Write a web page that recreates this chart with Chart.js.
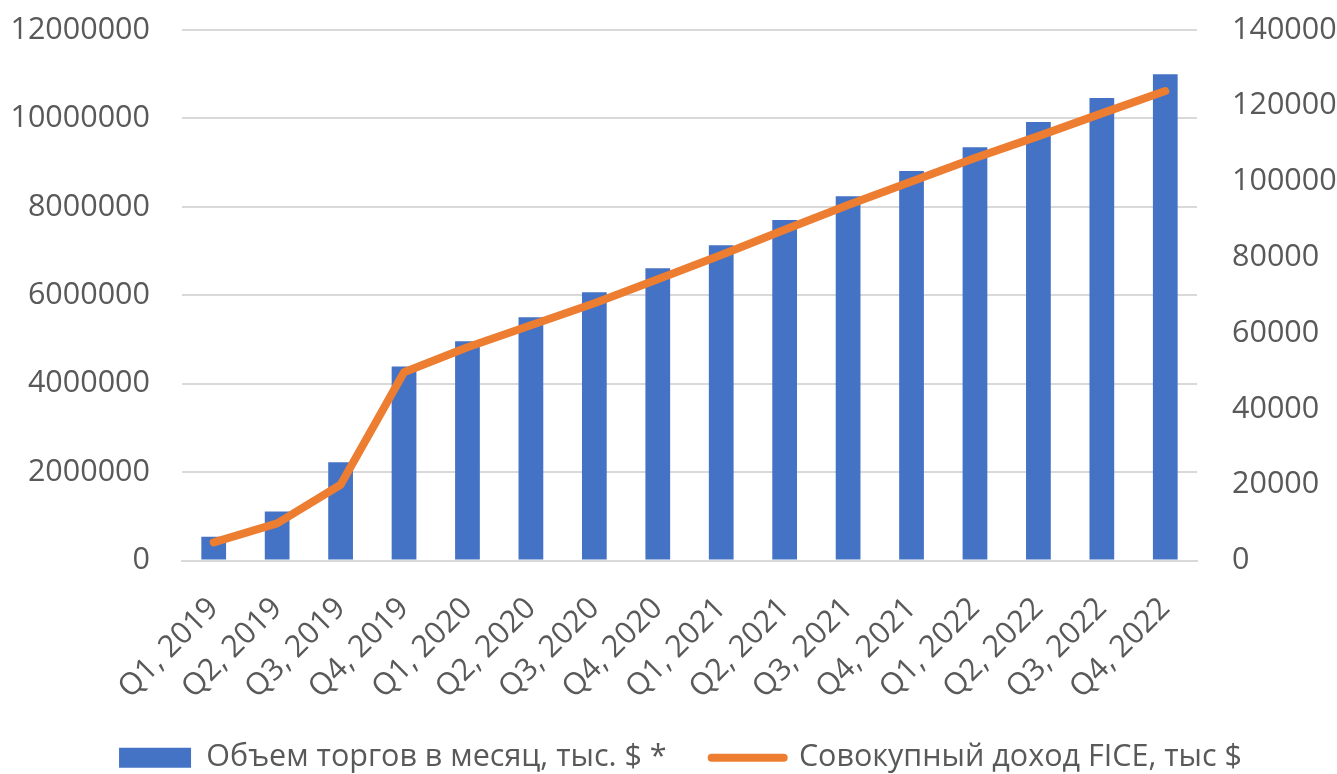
<!DOCTYPE html>
<html>
<head>
<meta charset="utf-8">
<script src="https://cdn.jsdelivr.net/npm/chart.js@4"></script>
<style>
  body { margin: 0; background: #fff; }
  #wrap { width: 1337px; height: 774px; }
</style>
</head>
<body>
<div id="wrap"><canvas id="myChart"></canvas></div>
<script>
// quarters on the x axis
const quarters = ['Q1, 2019', 'Q2, 2019', 'Q3, 2019', 'Q4, 2019',
                  'Q1, 2020', 'Q2, 2020', 'Q3, 2020', 'Q4, 2020',
                  'Q1, 2021', 'Q2, 2021', 'Q3, 2021', 'Q4, 2021',
                  'Q1, 2022', 'Q2, 2022', 'Q3, 2022', 'Q4, 2022'];

// monthly trading volume, thousand $ (left axis)
const volume = [540000, 1110000, 2220000, 4390000, 4960000, 5500000, 6070000, 6610000,
                7130000, 7700000, 8240000, 8810000, 9350000, 9920000, 10460000, 11000000];

// cumulative FICE income, thousand $ (right axis)
const income = [4800, 9800, 20000, 49700, 56300, 62100, 67900, 74200,
                80600, 87300, 93800, 100000, 106200, 112000, 118000, 123900];

const leftTicks = { min: 0, max: 12000000, step: 2000000 };
const rightTicks = { min: 0, max: 140000, step: 20000 };

const labelFont = { family: 'Open Sans', size: 30.5 };
const textColor = '#595959';

// nudge the legend a bit right and down, and let the rotated x labels
// run down past the axis box so they are not clipped
const layoutTweak = {
    id: 'layoutTweak',
    afterLayout(chart) {
        const lg = chart.legend;
        lg.left += 12; lg.right += 12;
        lg.top += 9; lg.bottom += 9;
        const x = chart.scales.x;
        x.bottom = chart.height;
        x.height = x.bottom - x.top;
    }
};

// drop the label overflow padding so the plot area reaches the top
const noPad = s => { s.paddingTop = 0; s.paddingBottom = 0; };

new Chart(document.getElementById('myChart'), {
    data: {
        labels: quarters,
        datasets: [{
            type: 'bar',
            label: 'Объем торгов в месяц, тыс. $ *',
            data: volume,
            backgroundColor: '#4472C4',
            yAxisID: 'y',
            order: 1,
            categoryPercentage: 1,
            barPercentage: 0.39
        }, {
            type: 'line',
            label: 'Совокупный доход FICE, тыс $',
            data: income,
            borderColor: '#ED7D31',
            backgroundColor: '#ED7D31',
            borderWidth: 8,
            borderCapStyle: 'round',
            borderJoinStyle: 'round',
            pointRadius: 0,
            tension: 0,
            yAxisID: 'y1',
            order: 0
        }]
    },
    options: {
        responsive: true,
        maintainAspectRatio: false,
        animation: false,
        layout: { padding: { top: 30, bottom: 0, left: 0, right: 0 } },
        plugins: {
            tooltip: { enabled: false },
            legend: {
                position: 'bottom',
                labels: {
                    font: labelFont,
                    color: textColor,
                    usePointStyle: true,
                    pointStyleWidth: 72,
                    boxHeight: 20,
                    padding: 45,
                    generateLabels: chart => chart.data.datasets.map((ds, i) => ({
                        text: ds.label,
                        datasetIndex: i,
                        fillStyle: ds.backgroundColor,
                        strokeStyle: i === 0 ? ds.backgroundColor : ds.borderColor,
                        lineWidth: i === 0 ? 0 : 8,
                        lineCap: 'round',
                        pointStyle: i === 0 ? 'rect' : 'line',
                        fontColor: textColor,
                        hidden: false
                    }))
                }
            }
        },
        scales: {
            x: {
                grid: { display: false },
                border: { display: true, color: '#d9d9d9', width: 2 },
                ticks: {
                    font: labelFont,
                    color: textColor,
                    minRotation: 45,
                    maxRotation: 45,
                    padding: 22
                },
                afterFit: s => { s.height = 128; s.paddingLeft = 0; s.paddingRight = 0; }
            },
            y: {
                position: 'left',
                min: leftTicks.min,
                max: leftTicks.max,
                grid: { color: '#d9d9d9', lineWidth: 2, drawTicks: false },
                border: { display: false },
                ticks: {
                    stepSize: leftTicks.step,
                    font: labelFont,
                    color: textColor,
                    padding: 32,
                    callback: v => String(v)
                },
                afterFit: s => { s.width = 182; noPad(s); }
            },
            y1: {
                position: 'right',
                min: rightTicks.min,
                max: rightTicks.max,
                grid: { display: false, drawTicks: false },
                border: { display: false },
                ticks: {
                    stepSize: rightTicks.step,
                    font: labelFont,
                    color: textColor,
                    padding: 35,
                    callback: v => String(v)
                },
                afterFit: s => { s.width = 140; noPad(s); }
            }
        }
    },
    plugins: [layoutTweak]
});
</script>
</body>
</html>
